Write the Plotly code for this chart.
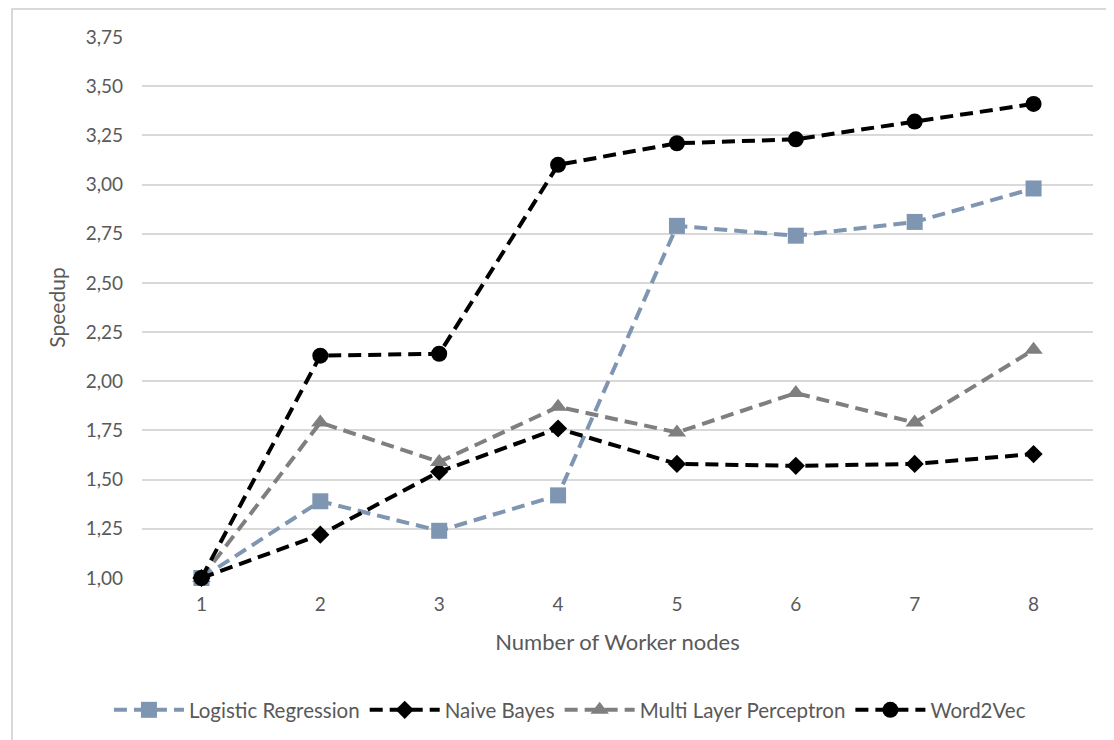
import plotly.graph_objects as go

workers = [1, 2, 3, 4, 5, 6, 7, 8]
logistic_regression = [1.00, 1.39, 1.24, 1.42, 2.79, 2.74, 2.81, 2.98]
naive_bayes = [1.00, 1.22, 1.54, 1.76, 1.58, 1.57, 1.58, 1.63]
mlp = [1.00, 1.79, 1.59, 1.87, 1.74, 1.94, 1.79, 2.16]
word2vec = [1.00, 2.13, 2.14, 3.10, 3.21, 3.23, 3.32, 3.41]

y_ticks = [1.00, 1.25, 1.50, 1.75, 2.00, 2.25, 2.50, 2.75, 3.00, 3.25, 3.50, 3.75]

FONT = "Lato, Open Sans, sans-serif"
TXT = "#595959"

series = [
    ("Logistic Regression", logistic_regression, "#7F96B2", "square", 16),
    ("Naive Bayes", naive_bayes, "#000000", "diamond", 14),
    ("Multi Layer Perceptron", mlp, "#7F7F7F", "triangle-up", 16),
    ("Word2Vec", word2vec, "#000000", "circle", 16),
]

fig = go.Figure()
for name, vals, col, sym, sz in series:
    fig.add_trace(go.Scatter(
        x=workers, y=vals, name=name, mode="lines+markers",
        line=dict(color=col, width=4, dash="13px,7px"),
        marker=dict(symbol=sym, size=sz, color=col),
        cliponaxis=False,
    ))

fig.update_layout(
    width=1114, height=740,
    paper_bgcolor="white", plot_bgcolor="white",
    margin=dict(l=134, r=29, t=29, b=170),
    separators=",.",
    font=dict(family=FONT, color=TXT, size=19),
    showlegend=True,
    legend=dict(orientation="h", x=0.45, xanchor="center", y=-0.244, yanchor="middle",
                font=dict(size=20.5, color=TXT), tracegroupgap=0, itemwidth=70),
    xaxis=dict(range=[0.5, 8.5], tickmode="array", tickvals=workers,
               showgrid=False, zeroline=False, showline=False, ticks="",
               ticklabelstandoff=13, tickfont=dict(size=19),
               title=dict(text="Number of Worker nodes", font=dict(size=22, color=TXT), standoff=20)),
    yaxis=dict(range=[1, 3.75], tickmode="array", tickvals=y_ticks, tickformat=".2f",
               showgrid=True, gridcolor="#D9D9D9", gridwidth=1.5, zeroline=False,
               showline=False, ticks="", ticklabelstandoff=18, tickfont=dict(size=19),
               title=dict(text="Speedup", font=dict(size=21, color=TXT), standoff=14)),
    shapes=[dict(type="rect", xref="paper", yref="paper",
                 x0=-130 / 951, x1=1 + 40 / 951, y0=-(170 + 20) / 541, y1=1 + 28 / 541,
                 line=dict(color="#D9D9D9", width=2), fillcolor="rgba(0,0,0,0)", layer="below")],
)

fig.write_html("out.html")
